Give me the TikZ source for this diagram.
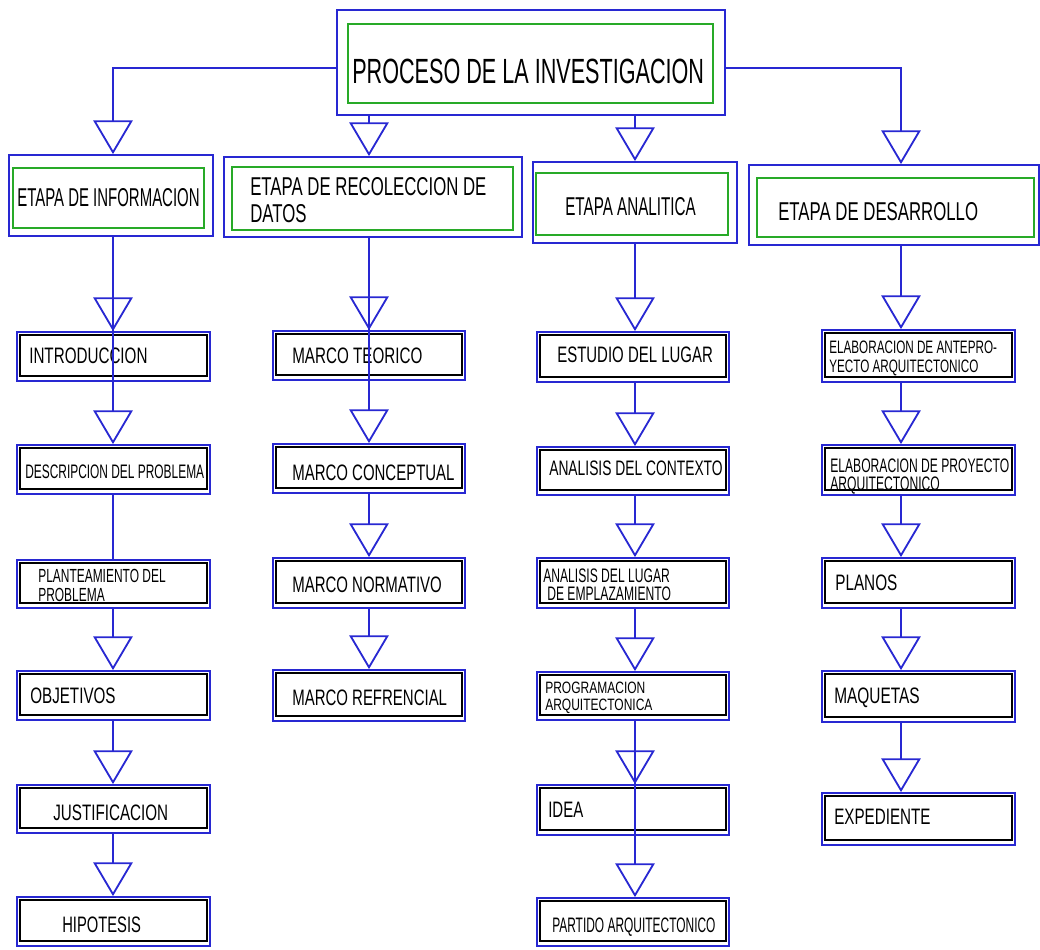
\documentclass[tikz,border=0pt]{standalone}
\usepackage{fontspec}
\usepackage{graphicx}
\usetikzlibrary{arrows.meta,fit}
\newfontfamily\arialf{Liberation Sans}
\definecolor{lineblue}{RGB}{40,40,210}
\definecolor{framegreen}{RGB}{40,170,40}
% #1 font size, #2 horizontal squeeze, #3 line spacing, #4 lines
\newcommand\T[4]{\fontsize{#1}{#3}\selectfont\scalebox{#2}[1]{\begin{tabular}[t]{@{}l@{}}#4\end{tabular}}}

\begin{document}
\begin{tikzpicture}[x=0.025cm, y=-0.025cm,
  outerframe/.style={draw=lineblue, line width=1.3pt, inner sep=0pt},
  innerframe/.style={draw=framegreen, line width=1.1pt, inner sep=0pt},
  stepbox/.style={draw=lineblue, line width=1.3pt, inner sep=0pt,
    path picture={\draw[black, line width=1.5pt]
      ([shift={(2.2pt,-2.2pt)}]path picture bounding box.north west) rectangle
      ([shift={(-2.2pt,3.6pt)}]path picture bounding box.south east);}},
  lab/.style={inner sep=0pt, anchor=base west, font=\arialf, text=black},
  conn/.style={draw=lineblue, line width=1.3pt, -{Triangle[open, width=28pt, length=24pt]}},
  plain/.style={draw=lineblue, line width=1.3pt}]

\useasboundingbox (0,0) rectangle (1040,949);

% column axes
\coordinate (c1) at (113,68);
\coordinate (c2) at (369,68);
\coordinate (c3) at (635,68);
\coordinate (c4) at (901,68);

% title
\node[outerframe, fit={(337,10) (725,115)}] (top) {};
\node[innerframe, fit={(348,24) (713,103)}] (topin) {};
\node[lab] (top-t) at (352,83) {\T{24.9pt}{0.617}{30pt}{PROCESO DE LA INVESTIGACION}};

% stage headers
\node[outerframe, fit={(9,155) (213,236)}] (h1) {};
\node[innerframe, fit={(13,168) (204,228)}] (h1in) {};
\node[lab] (h1-t) at (17,206) {\T{18.35pt}{0.58}{19.2pt}{ETAPA DE INFORMACION}};

\node[outerframe, fit={(224,157) (522,237)}] (h2) {};
\node[innerframe, fit={(232,167) (513,230)}] (h2in) {};
\node[lab] (h2-t) at (250,195) {\T{18.35pt}{0.65}{19.2pt}{ETAPA DE RECOLECCION DE\\DATOS}};

\node[outerframe, fit={(533,162) (737,243)}] (h3) {};
\node[innerframe, fit={(536,173) (728,235)}] (h3in) {};
\node[lab] (h3-t) at (565,215) {\T{18.35pt}{0.59}{19.2pt}{ETAPA ANALITICA}};

\node[outerframe, fit={(749,165) (1039,245)}] (h4) {};
\node[innerframe, fit={(757,178) (1034,237)}] (h4in) {};
\node[lab] (h4-t) at (778,220) {\T{18.35pt}{0.65}{19.2pt}{ETAPA DE DESARROLLO}};

% column 1
\node[stepbox, fit={(17,332) (210,381)}] (intro) {};
\node[lab] (intro-t) at (29,363) {\T{15.9pt}{0.68}{19pt}{INTRODUCCION}};
\node[stepbox, fit={(17,445) (210,494)}] (descr) {};
\node[lab] (descr-t) at (25,478) {\T{13.9pt}{0.61}{16pt}{DESCRIPCION DEL PROBLEMA}};
\node[stepbox, fit={(17,560) (210,608)}] (plant) {};
\node[lab] (plant-t) at (38,582) {\T{13.5pt}{0.63}{14.2pt}{PLANTEAMIENTO DEL\\PROBLEMA}};
\node[stepbox, fit={(17,671) (210,720)}] (objet) {};
\node[lab] (objet-t) at (30,703) {\T{15.9pt}{0.68}{19pt}{OBJETIVOS}};
\node[stepbox, fit={(17,785) (210,833)}] (justi) {};
\node[lab] (justi-t) at (53,820) {\T{15.9pt}{0.68}{19pt}{JUSTIFICACION}};
\node[stepbox, fit={(17,897) (210,946)}] (hipot) {};
\node[lab] (hipot-t) at (62,932) {\T{15.9pt}{0.66}{19pt}{HIPOTESIS}};

% column 2
\node[stepbox, fit={(273,331) (465,380)}] (mteor) {};
\node[lab] (mteor-t) at (292,363) {\T{15.9pt}{0.68}{19pt}{MARCO TEORICO}};
\node[stepbox, fit={(273,444) (465,493)}] (mconc) {};
\node[lab] (mconc-t) at (292,480) {\T{15.9pt}{0.67}{19pt}{MARCO CONCEPTUAL}};
\node[stepbox, fit={(273,558) (465,608)}] (mnorm) {};
\node[lab] (mnorm-t) at (292,592) {\T{15.9pt}{0.67}{19pt}{MARCO NORMATIVO}};
\node[stepbox, fit={(273,670) (465,721)}] (mref) {};
\node[lab] (mref-t) at (292,705) {\T{15.9pt}{0.67}{19pt}{MARCO REFRENCIAL}};

% column 3
\node[stepbox, fit={(537,332) (729,382)}] (estud) {};
\node[lab] (estud-t) at (557,362) {\T{15.9pt}{0.67}{19pt}{ESTUDIO DEL LUGAR}};
\node[stepbox, fit={(537,447) (729,495)}] (actx) {};
\node[lab] (actx-t) at (549,475) {\T{14.9pt}{0.66}{18pt}{ANALISIS DEL CONTEXTO}};
\node[stepbox, fit={(537,558) (729,608)}] (alug) {};
\node[lab] (alug-t) at (543,582) {\T{13.9pt}{0.62}{11.4pt}{ANALISIS DEL LUGAR\\\hspace{4.6pt}DE EMPLAZAMIENTO}};
\node[stepbox, fit={(537,672) (729,720)}] (progr) {};
\node[lab] (progr-t) at (545,693) {\T{11.7pt}{0.73}{12.1pt}{PROGRAMACION\\ARQUITECTONICA}};
\node[stepbox, fit={(537,785) (729,835)}] (idea) {};
\node[lab] (idea-t) at (548,817) {\T{15.9pt}{0.67}{19pt}{IDEA}};
\node[stepbox, fit={(537,898) (729,946)}] (parti) {};
\node[lab] (parti-t) at (552,932) {\T{14.9pt}{0.57}{18pt}{PARTIDO ARQUITECTONICO}};

% column 4
\node[stepbox, fit={(822,330) (1015,382)}] (eante) {};
\node[lab] (eante-t) at (829,353) {\T{12.8pt}{0.65}{14.2pt}{ELABORACION DE ANTEPRO-\\YECTO ARQUITECTONICO}};
\node[stepbox, fit={(822,445) (1015,495)}] (eproy) {};
\node[lab] (eproy-t) at (830,472) {\T{13.9pt}{0.62}{11.4pt}{ELABORACION DE PROYECTO\\ARQUITECTONICO}};
\node[stepbox, fit={(822,558) (1015,608)}] (planos) {};
\node[lab] (planos-t) at (835,590) {\T{15.9pt}{0.685}{19pt}{PLANOS}};
\node[stepbox, fit={(822,671) (1015,722)}] (maque) {};
\node[lab] (maque-t) at (834,703) {\T{15.9pt}{0.69}{19pt}{MAQUETAS}};
\node[stepbox, fit={(822,793) (1015,845)}] (exped) {};
\node[lab] (exped-t) at (834,824) {\T{15.9pt}{0.68}{19pt}{EXPEDIENTE}};

% title to stages
\draw[conn] (top.west |- c1) -| (h1.north -| c1);
\draw[conn] (top.south -| c2) -- (h2.north -| c2);
\draw[conn] (top.south -| c3) -- (h3.north -| c3);
\draw[conn] (top.east |- c4) -| (h4.north -| c4);

% column 1 flow
\draw[conn] (h1.south -| c1) -- (intro.north -| c1);
\draw[conn] (h1.south -| c1) -- (descr.north -| c1);
\draw[plain] (descr.south -| c1) -- (plant.north -| c1);
\draw[conn] (plant.south -| c1) -- (objet.north -| c1);
\draw[conn] (objet.south -| c1) -- (justi.north -| c1);
\draw[conn] (justi.south -| c1) -- (hipot.north -| c1);

% column 2 flow
\draw[conn] (h2.south -| c2) -- (mteor.north -| c2);
\draw[conn] (h2.south -| c2) -- (mconc.north -| c2);
\draw[conn] (mconc.south -| c2) -- (mnorm.north -| c2);
\draw[conn] (mnorm.south -| c2) -- (mref.north -| c2);

% column 3 flow
\draw[conn] (h3.south -| c3) -- (estud.north -| c3);
\draw[conn] (estud.south -| c3) -- (actx.north -| c3);
\draw[conn] (actx.south -| c3) -- (alug.north -| c3);
\draw[conn] (alug.south -| c3) -- (progr.north -| c3);
\draw[conn] (progr.south -| c3) -- (idea.north -| c3);
\draw[conn] (progr.south -| c3) -- (parti.north -| c3);

% column 4 flow
\draw[conn] (h4.south -| c4) -- (eante.north -| c4);
\draw[conn] (eante.south -| c4) -- (eproy.north -| c4);
\draw[conn] (eproy.south -| c4) -- (planos.north -| c4);
\draw[conn] (planos.south -| c4) -- (maque.north -| c4);
\draw[conn] (maque.south -| c4) -- (exped.north -| c4);
\end{tikzpicture}
\end{document}
